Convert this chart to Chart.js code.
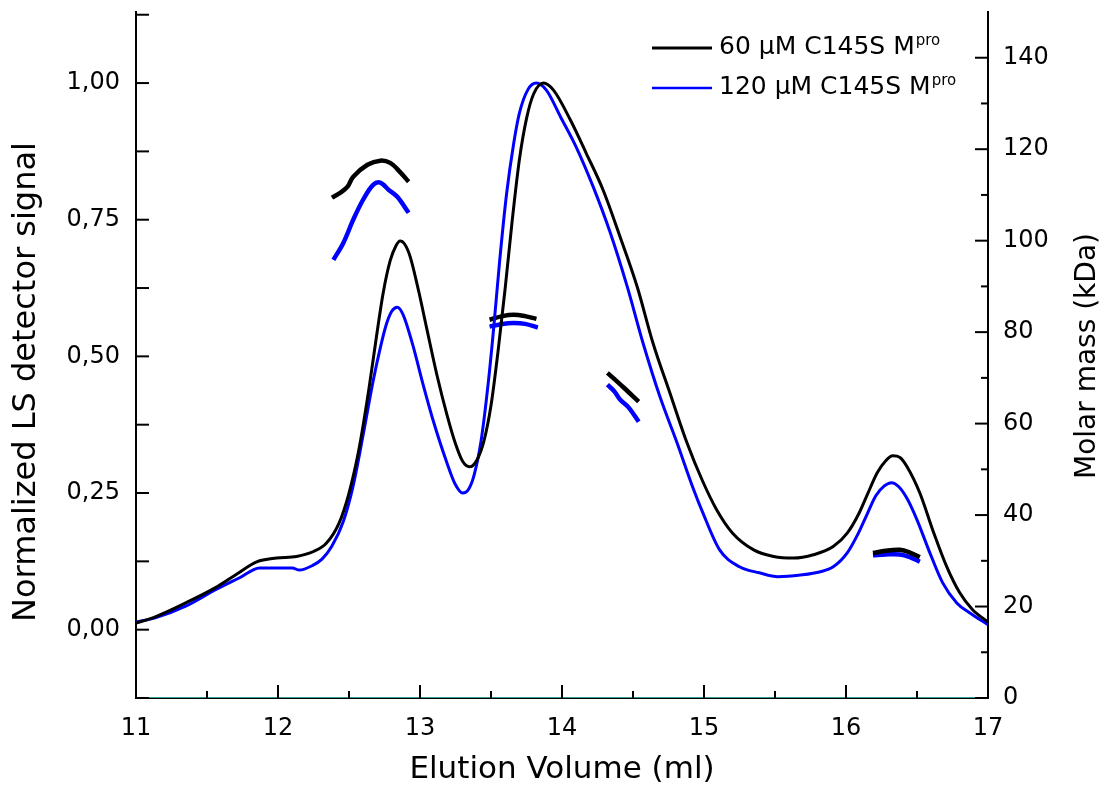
<!DOCTYPE html>
<html>
<head>
<meta charset="utf-8">
<script src="https://cdn.jsdelivr.net/npm/chart.js@4.4.0/dist/chart.umd.min.js"></script>
<style>
  body { margin: 0; background: #fff; }
  #wrap { width: 1109px; height: 792px; }
</style>
</head>
<body>
<div id="wrap"><canvas id="chart" width="1109" height="792"></canvas></div>
<script>
// normalized LS signal, 60 uM
const ls60X = [11.0, 11.14, 11.35, 11.56, 11.70, 11.85, 11.99, 12.13, 12.25, 12.34, 12.43, 12.50, 12.57, 12.64, 12.69, 12.74, 12.79, 12.83, 12.86, 12.89, 12.93, 12.99, 13.05, 13.12, 13.19, 13.25, 13.30, 13.35, 13.40, 13.45, 13.50, 13.55, 13.60, 13.65, 13.70, 13.75, 13.80, 13.87, 13.94, 14.06, 14.17, 14.29, 14.41, 14.53, 14.64, 14.76, 14.88, 14.99, 15.09, 15.20, 15.35, 15.49, 15.63, 15.77, 15.91, 16.01, 16.09, 16.15, 16.22, 16.28, 16.33, 16.38, 16.43, 16.52, 16.61, 16.71, 16.80, 16.89, 17.0];
const ls60Y = [0.012, 0.024, 0.049, 0.077, 0.100, 0.124, 0.131, 0.134, 0.143, 0.158, 0.195, 0.250, 0.330, 0.440, 0.530, 0.615, 0.675, 0.702, 0.711, 0.706, 0.683, 0.620, 0.548, 0.465, 0.393, 0.340, 0.308, 0.298, 0.310, 0.345, 0.410, 0.510, 0.625, 0.750, 0.860, 0.935, 0.980, 1.000, 0.987, 0.932, 0.872, 0.804, 0.718, 0.627, 0.525, 0.433, 0.342, 0.272, 0.219, 0.177, 0.146, 0.134, 0.131, 0.137, 0.152, 0.177, 0.212, 0.247, 0.287, 0.309, 0.318, 0.315, 0.298, 0.250, 0.183, 0.115, 0.068, 0.037, 0.014];

// normalized LS signal, 120 uM
const ls120X = [11.0, 11.14, 11.35, 11.56, 11.73, 11.87, 12.0, 12.1, 12.15, 12.24, 12.31, 12.38, 12.46, 12.53, 12.60, 12.67, 12.72, 12.76, 12.80, 12.84, 12.88, 12.95, 13.02, 13.09, 13.19, 13.25, 13.30, 13.34, 13.38, 13.43, 13.48, 13.52, 13.56, 13.61, 13.66, 13.70, 13.76, 13.82, 13.89, 13.99, 14.10, 14.22, 14.34, 14.46, 14.57, 14.69, 14.81, 14.92, 14.99, 15.11, 15.25, 15.39, 15.52, 15.68, 15.82, 15.91, 16.01, 16.09, 16.15, 16.21, 16.27, 16.32, 16.37, 16.43, 16.50, 16.59, 16.68, 16.78, 16.87, 17.0];
const ls120Y = [0.014, 0.022, 0.043, 0.073, 0.095, 0.113, 0.113, 0.113, 0.109, 0.117, 0.129, 0.153, 0.198, 0.264, 0.357, 0.455, 0.515, 0.556, 0.582, 0.590, 0.577, 0.520, 0.450, 0.385, 0.305, 0.265, 0.250, 0.256, 0.282, 0.345, 0.450, 0.555, 0.672, 0.798, 0.890, 0.945, 0.988, 1.000, 0.987, 0.938, 0.883, 0.810, 0.726, 0.627, 0.525, 0.426, 0.342, 0.261, 0.215, 0.146, 0.115, 0.104, 0.097, 0.100, 0.106, 0.115, 0.141, 0.178, 0.212, 0.245, 0.263, 0.269, 0.262, 0.240, 0.201, 0.141, 0.086, 0.049, 0.031, 0.009];

// molar mass (kDa), null = gap between peaks
const mass60X = [12.38, 12.44, 12.49, 12.53, 12.63, 12.72, 12.79, 12.86, 12.92, null, 13.49, 13.58, 13.66, 13.74, 13.82, null, 14.32, 14.43, 14.54, null, 16.19, 16.28, 16.38, 16.45, 16.52];
const mass60Y = [109.4, 110.5, 111.8, 114.0, 116.6, 117.5, 117.0, 115.0, 112.9, null, 82.7, 83.5, 83.8, 83.5, 82.9, null, 71.1, 68.0, 64.8, null, 31.7, 32.2, 32.4, 31.8, 30.8];
const mass120X = [12.39, 12.46, 12.53, 12.60, 12.67, 12.72, 12.78, 12.84, 12.92, null, 13.49, 13.58, 13.66, 13.74, 13.83, null, 14.32, 14.37, 14.41, 14.47, 14.54, null, 16.19, 16.28, 16.38, 16.45, 16.52];
const mass120Y = [95.8, 99.5, 104.6, 109.0, 112.2, 112.7, 111.1, 109.6, 106.1, null, 81.2, 81.8, 82.0, 81.8, 81.0, null, 68.5, 67.0, 65.2, 63.5, 60.4, null, 31.2, 31.4, 31.4, 30.8, 29.8];
const massBaseX = [11, 17];
const massBaseY = [0, 0];

const legendLabels = ['60 \u03BCM C145S M', '120 \u03BCM C145S M'];
const legendSup = 'pro';
const xTitle = 'Elution Volume (ml)';
const yTitle = 'Normalized LS detector signal';
const y2Title = 'Molar mass (kDa)';

const xTicks = [11, 12, 13, 14, 15, 16, 17];
const xTickLabels = ['11', '12', '13', '14', '15', '16', '17'];
const xMinor = [11.5, 12.5, 13.5, 14.5, 15.5, 16.5];
const yTicks = [0, 0.25, 0.5, 0.75, 1.0];
const yTickLabels = ['0,00', '0,25', '0,50', '0,75', '1,00'];
const yMinor = [-0.125, 0.125, 0.375, 0.625, 0.875, 1.125];
const y2Ticks = [0, 20, 40, 60, 80, 100, 120, 140];
const y2TickLabels = ['0', '20', '40', '60', '80', '100', '120', '140'];
const y2Minor = [10, 30, 50, 70, 90, 110, 130];

function toPoints(xs, ys) {
  return xs.map((x, i) => ({ x: x === null ? xs[i - 1] : x, y: ys[i] }));
}

const FONT = 'DejaVu Sans';

const tickMarks = {
  id: 'tickMarks',
  afterDatasetsDraw(chart) {
    const { ctx, chartArea: a, scales } = chart;
    ctx.save();
    ctx.strokeStyle = '#000';
    ctx.lineWidth = 2;
    const line = (x1, y1, x2, y2) => { ctx.beginPath(); ctx.moveTo(x1, y1); ctx.lineTo(x2, y2); ctx.stroke(); };
    xTicks.forEach(v => { const p = scales.x.getPixelForValue(v); line(p, a.bottom, p, a.bottom - 13); });
    xMinor.forEach(v => { const p = scales.x.getPixelForValue(v); line(p, a.bottom, p, a.bottom - 7); });
    yTicks.concat(yMinor).forEach(v => { const p = scales.y.getPixelForValue(v); line(a.left, p, a.left + 13, p); });
    y2Ticks.forEach(v => { const p = scales.y2.getPixelForValue(v); line(a.right, p, a.right - 13, p); });
    y2Minor.forEach(v => { const p = scales.y2.getPixelForValue(v); line(a.right, p, a.right - 7, p); });
    ctx.restore();
  }
};

// legend with superscript, and the three axis titles
const textLayer = {
  id: 'textLayer',
  afterDraw(chart) {
    const ctx = chart.ctx;
    const colors = ['#000000', '#0000ff'];
    const widths = [3, 2.5];
    const rows = [48, 88];
    ctx.save();
    rows.forEach((y, i) => {
      ctx.strokeStyle = colors[i];
      ctx.lineWidth = widths[i];
      ctx.beginPath(); ctx.moveTo(652, y); ctx.lineTo(712, y); ctx.stroke();
      ctx.fillStyle = '#000';
      ctx.textBaseline = 'alphabetic';
      ctx.font = '25px "' + FONT + '"';
      ctx.fillText(legendLabels[i], 719, y + 6);
      const w = ctx.measureText(legendLabels[i]).width;
      ctx.font = '15px "' + FONT + '"';
      ctx.fillText(legendSup, 719 + w + 1, y - 3);
    });

    ctx.fillStyle = '#000';
    ctx.textAlign = 'center';
    ctx.textBaseline = 'middle';
    ctx.font = '31px "' + FONT + '"';
    ctx.fillText(xTitle, 562, 770);

    ctx.save();
    ctx.translate(27, 382);
    ctx.rotate(-Math.PI / 2);
    ctx.font = '32px "' + FONT + '"';
    ctx.fillText(yTitle, 0, 0);
    ctx.restore();

    ctx.save();
    ctx.translate(1088, 356);
    ctx.rotate(-Math.PI / 2);
    ctx.font = '28px "' + FONT + '"';
    ctx.fillText(y2Title, 0, 0);
    ctx.restore();
    ctx.restore();
  }
};

const axisTick = { family: FONT, size: 24 };

new Chart(document.getElementById('chart'), {
  type: 'line',
  data: {
    datasets: [
      { data: toPoints(massBaseX, massBaseY), yAxisID: 'y2', borderColor: '#2f9c9c', borderWidth: 2, pointRadius: 0 },
      { data: toPoints(ls60X, ls60Y), yAxisID: 'y', borderColor: '#000000', borderWidth: 3, pointRadius: 0, cubicInterpolationMode: 'monotone' },
      { data: toPoints(ls120X, ls120Y), yAxisID: 'y', borderColor: '#0000ff', borderWidth: 3, pointRadius: 0, cubicInterpolationMode: 'monotone' },
      { data: toPoints(mass60X, mass60Y), yAxisID: 'y2', borderColor: '#000000', borderWidth: 4.5, pointRadius: 0, spanGaps: false, tension: 0.35 },
      { data: toPoints(mass120X, mass120Y), yAxisID: 'y2', borderColor: '#0000ff', borderWidth: 4.5, pointRadius: 0, spanGaps: false, tension: 0.35 }
    ]
  },
  options: {
    responsive: false,
    animation: false,
    layout: { padding: { top: 12, left: 0, right: 0, bottom: 0 } },
    plugins: { legend: { display: false }, tooltip: { enabled: false } },
    scales: {
      x: {
        type: 'linear', min: 11, max: 17,
        afterBuildTicks: s => { s.ticks = xTicks.map(v => ({ value: v })); },
        afterFit: s => { s.height = 94; s.paddingLeft = 0; s.paddingRight = 0; },
        grid: { display: true, drawOnChartArea: false, drawTicks: false },
        border: { display: true, color: '#000', width: 2 },
        ticks: { padding: 16, color: '#000', font: axisTick, maxRotation: 0, autoSkip: false, callback: (v, i) => xTickLabels[i] }
      },
      y: {
        type: 'linear', position: 'left', min: -0.125, max: 1.13,
        afterBuildTicks: s => { s.ticks = yTicks.map(v => ({ value: v })); },
        afterFit: s => { s.width = 136; s.paddingTop = 0; s.paddingBottom = 0; },
        grid: { display: true, drawOnChartArea: false, drawTicks: false },
        border: { display: true, color: '#000', width: 2 },
        ticks: { padding: 16, color: '#000', font: axisTick, autoSkip: false, callback: (v, i) => yTickLabels[i] }
      },
      y2: {
        type: 'linear', position: 'right', min: 0, max: 150,
        afterBuildTicks: s => { s.ticks = y2Ticks.map(v => ({ value: v })); },
        afterFit: s => { s.width = 121; s.paddingTop = 0; s.paddingBottom = 0; },
        grid: { display: true, drawOnChartArea: false, drawTicks: false },
        border: { display: true, color: '#000', width: 2 },
        ticks: { padding: 15, color: '#000', font: axisTick, autoSkip: false, callback: (v, i) => y2TickLabels[i] }
      }
    }
  },
  plugins: [tickMarks, textLayer]
});
</script>
</body>
</html>
